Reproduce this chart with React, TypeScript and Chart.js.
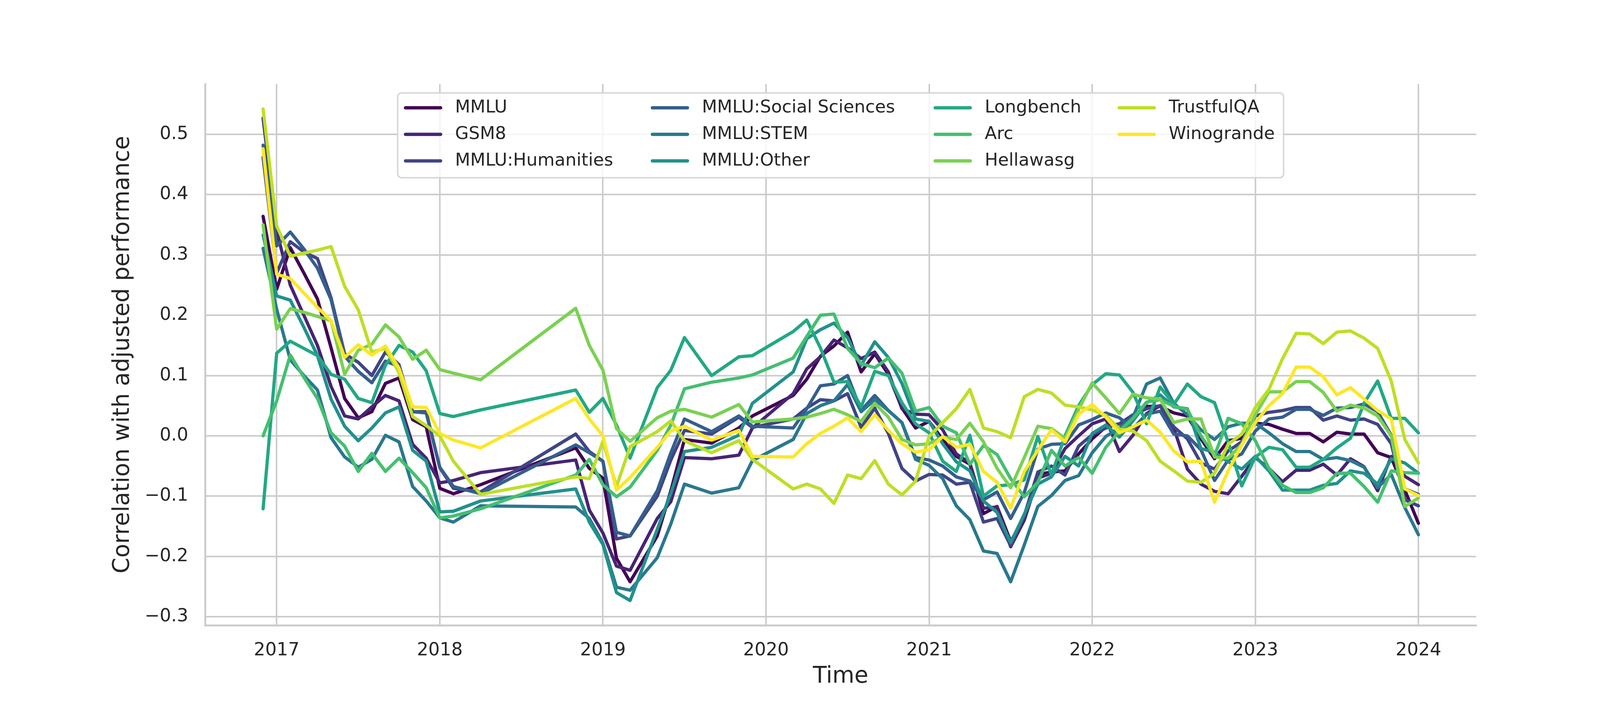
import { useEffect, useRef } from 'react';
import { Chart, registerables } from 'chart.js';

Chart.register(...registerables);

// Observation months (YYYY-MM)
const MONTHS = [
  '2016-12', '2017-01', '2017-02', '2017-03', '2017-04', '2017-05', '2017-06', '2017-07', '2017-08', '2017-09', '2017-10', '2017-11', '2017-12', '2018-01', '2018-02', '2018-04',
  '2018-11', '2018-12', '2019-01', '2019-02', '2019-03', '2019-05', '2019-06', '2019-07', '2019-09', '2019-11', '2019-12',
  '2020-03', '2020-04', '2020-05', '2020-06', '2020-07', '2020-08', '2020-09', '2020-10', '2020-11', '2020-12',
  '2021-01', '2021-02', '2021-03', '2021-04', '2021-05', '2021-06', '2021-07', '2021-08', '2021-09', '2021-10', '2021-11', '2021-12',
  '2022-01', '2022-02', '2022-03', '2022-04', '2022-05', '2022-06', '2022-07', '2022-08', '2022-09', '2022-10', '2022-11', '2022-12',
  '2023-01', '2023-02', '2023-03', '2023-04', '2023-05', '2023-06', '2023-07', '2023-08', '2023-09', '2023-10', '2023-11', '2023-12',
  '2024-01',
];

const MMLU = [
  0.364, 0.243, 0.312, 0.27, 0.227, 0.146, 0.062, 0.030, 0.040, 0.087, 0.096, 0.027, 0.015, -0.087, -0.096, -0.081,
  -0.020, -0.054, -0.070, -0.203, -0.242, -0.166, -0.091, -0.006, -0.012, 0.013, 0.033,
  0.067, 0.094, 0.132, 0.149, 0.172, 0.106, 0.136, 0.102, 0.046, 0.013,
  0.024, -0.006, -0.034, -0.047, -0.129, -0.117, -0.175, -0.136, -0.064, -0.060, -0.058, -0.030,
  -0.005, 0.015, 0.020, 0.030, 0.049, 0.049, 0.038, 0.033, -0.005, -0.038, -0.008, -0.004,
  0.021, 0.019, 0.011, 0.004, 0.004, -0.010, 0.006, 0.003, 0.003, -0.028, -0.036, -0.090,
  -0.145,
];

const GSM8 = [
  0.527, 0.34, 0.25, 0.20, 0.15, 0.082, 0.033, 0.028, 0.048, 0.067, 0.058, -0.014, -0.037, -0.078, -0.074, -0.061,
  -0.040, -0.123, -0.161, -0.216, -0.223, -0.137, -0.109, -0.036, -0.038, -0.032, 0.013,
  0.070, 0.111, 0.131, 0.159, 0.146, 0.128, 0.139, 0.106, 0.045, 0.036,
  0.035, 0.010, -0.030, -0.045, -0.120, -0.118, -0.184, -0.140, -0.070, -0.062, -0.021, 0.000,
  0.020, 0.028, -0.026, 0.001, 0.037, 0.050, 0.013, -0.055, -0.080, -0.092, -0.096, -0.067,
  -0.036, -0.054, -0.076, -0.057, -0.057, -0.047, -0.065, -0.038, -0.051, -0.091, -0.034, -0.067,
  -0.081,
];

const HUMANITIES = [
  0.462, 0.27, 0.322, 0.305, 0.294, 0.229, 0.136, 0.122, 0.100, 0.139, 0.118, 0.040, 0.040, -0.053, -0.087, -0.093,
  0.003, -0.026, -0.042, -0.171, -0.166, -0.100, -0.040, 0.009, 0.003, 0.031, 0.014,
  0.028, 0.046, 0.060, 0.058, 0.070, 0.014, 0.046, 0.004, -0.054, -0.075,
  -0.064, -0.065, -0.080, -0.077, -0.143, -0.137, -0.182, -0.132, -0.060, -0.050, -0.065, -0.017,
  0.002, 0.013, 0.020, 0.035, 0.045, 0.050, 0.015, -0.005, -0.045, -0.055, -0.025, -0.010,
  0.033, 0.039, 0.042, 0.047, 0.047, 0.026, 0.033, 0.026, 0.028, 0.019, -0.013, -0.106,
  -0.116,
];

const SOCIAL = [
  0.482, 0.315, 0.338, 0.310, 0.278, 0.226, 0.132, 0.107, 0.088, 0.124, 0.115, 0.040, 0.038, -0.052, -0.084, -0.096,
  -0.015, -0.028, -0.042, -0.160, -0.166, -0.091, -0.028, 0.028, 0.007, 0.033, 0.016,
  0.013, 0.045, 0.083, 0.086, 0.100, 0.042, 0.067, 0.042, 0.022, -0.036,
  -0.040, -0.050, -0.068, -0.075, -0.106, -0.093, -0.137, -0.094, -0.022, -0.014, -0.013, 0.018,
  0.027, 0.038, 0.030, 0.012, 0.036, 0.041, 0.003, 0.000, -0.023, -0.074, -0.040, -0.030,
  0.008, 0.028, 0.031, 0.044, 0.044, 0.034, 0.046, 0.047, 0.053, 0.040, 0.001, -0.088,
  -0.097,
];

const STEM = [
  0.311, 0.21, 0.126, 0.10, 0.076, -0.003, -0.035, -0.052, -0.039, 0.001, -0.010, -0.084, -0.108, -0.136, -0.143, -0.116,
  -0.118, -0.137, -0.178, -0.251, -0.256, -0.202, -0.146, -0.080, -0.095, -0.086, -0.041,
  -0.006, 0.037, 0.050, 0.058, 0.085, 0.040, 0.060, 0.042, 0.022, -0.039,
  -0.049, -0.071, -0.116, -0.139, -0.191, -0.195, -0.242, -0.181, -0.117, -0.099, -0.074, -0.066,
  -0.028, -0.001, 0.013, 0.031, 0.086, 0.096, 0.054, 0.035, 0.010, -0.006, 0.015, 0.021,
  0.021, 0.005, -0.013, -0.026, -0.026, -0.039, -0.036, -0.041, -0.052, -0.086, -0.064, -0.119,
  -0.164,
];

const OTHER = [
  0.333, 0.232, 0.225, 0.18, 0.133, 0.061, 0.016, -0.008, 0.013, 0.038, 0.048, -0.024, -0.042, -0.126, -0.125, -0.108,
  -0.088, -0.143, -0.180, -0.260, -0.273, -0.155, -0.095, -0.026, -0.019, 0.001, 0.054,
  0.106, 0.161, 0.176, 0.187, 0.163, 0.117, 0.156, 0.130, 0.087, 0.028,
  0.024, -0.013, -0.043, -0.058, -0.108, -0.127, -0.177, -0.130, -0.080, -0.068, -0.034, -0.050,
  0.004, 0.018, -0.002, 0.025, 0.055, 0.068, 0.048, 0.045, -0.021, -0.027, -0.043, -0.055,
  -0.034, -0.058, -0.090, -0.090, -0.090, -0.082, -0.079, -0.058, -0.062, -0.080, -0.038, -0.045,
  -0.062,
];

const LONGBENCH = [
  -0.121, 0.137, 0.157, 0.145, 0.133, 0.102, 0.094, 0.062, 0.055, 0.117, 0.150, 0.139, 0.108, 0.037, 0.032, 0.043,
  0.076, 0.039, 0.062, 0.018, -0.037, 0.080, 0.109, 0.163, 0.100, 0.131, 0.133,
  0.173, 0.192, 0.146, 0.089, 0.090, 0.048, 0.107, 0.100, 0.055, 0.020,
  0.005, -0.042, -0.059, 0.001, -0.100, -0.083, -0.081, -0.073, -0.001, -0.065, 0.000, 0.050,
  0.085, 0.103, 0.101, 0.072, 0.020, 0.081, 0.052, 0.086, 0.065, 0.055, -0.010, -0.083,
  -0.035, -0.019, -0.023, -0.052, -0.052, -0.039, -0.020, -0.004, 0.054, 0.091, 0.029, 0.029,
  0.005,
];

const ARC = [
  0.000, 0.058, 0.134, 0.097, 0.062, 0.005, -0.017, -0.059, -0.029, -0.059, -0.037, -0.061, -0.086, -0.136, -0.133, -0.121,
  -0.065, -0.039, -0.081, -0.101, -0.085, -0.024, 0.018, 0.078, 0.089, 0.096, 0.101,
  0.129, 0.165, 0.200, 0.202, 0.145, 0.120, 0.113, 0.129, 0.104, 0.041,
  0.047, 0.016, 0.005, -0.047, -0.016, -0.031, -0.071, -0.101, -0.077, -0.024, -0.050, -0.036,
  -0.062, -0.019, 0.008, 0.029, 0.056, 0.060, 0.049, 0.044, 0.000, -0.033, 0.029, 0.020,
  -0.008, -0.054, -0.082, -0.094, -0.094, -0.086, -0.062, -0.062, -0.084, -0.110, -0.058, -0.061,
  -0.062,
];

const HELLAWASG = [
  0.350, 0.177, 0.211, 0.205, 0.198, 0.191, 0.102, 0.142, 0.152, 0.184, 0.164, 0.127, 0.142, 0.110, 0.104, 0.093,
  0.2115, 0.150, 0.109, 0.012, -0.009, 0.030, 0.041, 0.044, 0.031, 0.052, 0.023,
  0.028, 0.031, 0.037, 0.044, 0.035, 0.024, 0.054, 0.031, -0.006, -0.015,
  -0.013, -0.002, -0.006, 0.021, -0.010, -0.054, -0.086, -0.036, 0.016, 0.012, -0.004, 0.044,
  0.088, 0.063, 0.037, 0.069, 0.063, 0.061, 0.022, 0.028, 0.028, -0.035, -0.037, -0.014,
  0.035, 0.073, 0.073, 0.090, 0.090, 0.072, 0.041, 0.051, 0.046, 0.033, 0.000, -0.117,
  -0.103,
];

const TRUSTFULQA = [
  0.542, 0.348, 0.298, 0.303, 0.308, 0.314, 0.248, 0.209, 0.139, 0.145, 0.105, 0.032, 0.017, 0.000, -0.042, -0.097,
  -0.068, -0.071, -0.009, -0.084, -0.018, 0.007, 0.025, -0.008, -0.028, -0.008, -0.039,
  -0.088, -0.080, -0.088, -0.112, -0.065, -0.071, -0.041, -0.080, -0.098, -0.075,
  -0.001, 0.022, 0.045, 0.077, 0.013, 0.007, -0.003, 0.065, 0.077, 0.071, 0.051, 0.048,
  0.043, 0.034, 0.011, 0.008, -0.008, -0.042, -0.058, -0.075, -0.077, -0.062, -0.014, 0.003,
  0.047, 0.077, 0.128, 0.170, 0.169, 0.153, 0.172, 0.174, 0.162, 0.145, 0.091, -0.006,
  -0.045,
];

const WINOGRANDE = [
  0.476, 0.268, 0.261, 0.237, 0.213, 0.191, 0.130, 0.151, 0.134, 0.149, 0.112, 0.048, 0.047, 0.004, -0.007, -0.020,
  0.062, 0.028, 0.000, -0.090, -0.069, -0.019, 0.008, 0.016, -0.007, 0.009, -0.034,
  -0.035, -0.013, 0.004, 0.016, 0.030, 0.007, 0.035, 0.009, -0.013, -0.027,
  -0.023, -0.001, -0.019, -0.014, -0.059, -0.077, -0.120, -0.059, -0.024, 0.010, -0.010, 0.036,
  0.052, 0.031, 0.005, 0.015, 0.026, 0.006, -0.025, -0.043, -0.042, -0.110, -0.058, -0.015,
  0.022, 0.050, 0.070, 0.114, 0.114, 0.098, 0.068, 0.080, 0.061, 0.042, 0.028, -0.088,
  -0.099,
];

const SERIES_NAMES = [
  'MMLU', 'GSM8', 'MMLU:Humanities', 'MMLU:Social Sciences', 'MMLU:STEM', 'MMLU:Other',
  'Longbench', 'Arc', 'Hellawasg', 'TrustfulQA', 'Winogrande',
];
const SERIES_VALUES = [MMLU, GSM8, HUMANITIES, SOCIAL, STEM, OTHER, LONGBENCH, ARC, HELLAWASG, TRUSTFULQA, WINOGRANDE];
const COLORS = ['#440154', '#482475', '#414487', '#355f8d', '#2a788e', '#21918c', '#22a884', '#44bf70', '#7ad151', '#bddf26', '#fde725'];

const Y_TICKS = [-0.3, -0.2, -0.1, 0.0, 0.1, 0.2, 0.3, 0.4, 0.5];
const X_TICKS = [2017, 2018, 2019, 2020, 2021, 2022, 2023, 2024];

const X_MIN = 2016.561;
const X_MAX = 2024.354;
const Y_MIN = -0.3141;
const Y_MAX = 0.5835;

const FONT = 'DejaVu Sans';
const TEXT = '#262626';
const GRID = '#cccccc';
const LINE_W = 8.3;

function monthToYear(m: string): number {
  const [y, mo] = m.split('-').map(Number);
  return y + (mo - 1) / 12;
}

function fmtY(v: number): string {
  const r = Math.round(v * 10) / 10;
  if (Math.abs(r) < 1e-9) return '0.0';
  return (r < 0 ? '\u2212' : '') + Math.abs(r).toFixed(1);
}

const legendPlugin = {
  id: 'boxLegend',
  afterDatasetsDraw(chart: any) {
    const ctx: CanvasRenderingContext2D = chart.ctx;
    const x0 = 1018, y0 = 238, x1 = 3286, y1 = 455, r = 10;
    ctx.save();
    ctx.beginPath();
    ctx.moveTo(x0 + r, y0);
    ctx.lineTo(x1 - r, y0);
    ctx.arcTo(x1, y0, x1, y0 + r, r);
    ctx.lineTo(x1, y1 - r);
    ctx.arcTo(x1, y1, x1 - r, y1, r);
    ctx.lineTo(x0 + r, y1);
    ctx.arcTo(x0, y1, x0, y1 - r, r);
    ctx.lineTo(x0, y0 + r);
    ctx.arcTo(x0, y0, x0 + r, y0, r);
    ctx.closePath();
    ctx.fillStyle = 'rgba(255,255,255,0.8)';
    ctx.fill();
    ctx.strokeStyle = '#d5d5d5';
    ctx.lineWidth = 3.5;
    ctx.stroke();

    const colX = [1034, 1666, 2390, 2861];
    const rowY = [276, 344, 412];
    ctx.font = `45px "${FONT}"`;
    ctx.textBaseline = 'middle';
    ctx.textAlign = 'left';
    SERIES_NAMES.forEach((name, i) => {
      const col = Math.floor(i / 3);
      const row = i % 3;
      const hx = colX[col];
      const hy = rowY[row];
      ctx.beginPath();
      ctx.moveTo(hx + 4, hy);
      ctx.lineTo(hx + 94, hy);
      ctx.strokeStyle = COLORS[i];
      ctx.lineWidth = LINE_W;
      ctx.lineCap = 'round';
      ctx.stroke();
      ctx.fillStyle = TEXT;
      ctx.fillText(name, hx + 131, hy);
    });
    ctx.restore();
  },
};

export default function App() {
  const canvasRef = useRef<HTMLCanvasElement | null>(null);

  useEffect(() => {
    const canvas = canvasRef.current;
    if (!canvas) return;
    const xs = MONTHS.map(monthToYear);
    const datasets = SERIES_NAMES.map((name, i) => ({
      label: name,
      data: xs.map((x, j) => ({ x, y: SERIES_VALUES[i][j] })),
      borderColor: COLORS[i],
      backgroundColor: COLORS[i],
      borderWidth: LINE_W,
      pointRadius: 0,
      tension: 0,
      fill: false,
      borderJoinStyle: 'round' as const,
      borderCapStyle: 'round' as const,
      order: SERIES_NAMES.length - i,
    }));

    const chart = new Chart(canvas, {
      type: 'line',
      data: { datasets },
      options: {
        animation: false,
        responsive: false,
        devicePixelRatio: 1,
        layout: { padding: { left: 0, right: 421, top: 215, bottom: 0 } },
        plugins: { legend: { display: false }, tooltip: { enabled: false }, title: { display: false } },
        scales: {
          x: {
            type: 'linear',
            min: X_MIN,
            max: X_MAX,
            afterBuildTicks: (s: any) => { s.ticks = X_TICKS.map((v) => ({ value: v })); },
            afterFit: (s: any) => { s.height = 199; },
            grid: { color: GRID, lineWidth: 4, drawTicks: false },
            border: { display: true, color: GRID, width: 5 },
            ticks: {
              padding: 37,
              autoSkip: false,
              maxRotation: 0,
              color: TEXT,
              font: { family: FONT, size: 46 },
              callback: (v: any) => String(v),
            },
            title: {
              display: true,
              text: 'Time',
              color: TEXT,
              font: { family: FONT, size: 58 },
              padding: { top: 0, bottom: 32 },
            },
          },
          y: {
            type: 'linear',
            min: Y_MIN,
            max: Y_MAX,
            afterBuildTicks: (s: any) => { s.ticks = Y_TICKS.map((v) => ({ value: v })); },
            afterFit: (s: any) => { s.width = 525; },
            grid: { color: GRID, lineWidth: 4, drawTicks: false },
            border: { display: true, color: GRID, width: 5 },
            ticks: {
              padding: 43,
              autoSkip: false,
              color: TEXT,
              font: { family: FONT, size: 46 },
              callback: (v: any) => fmtY(Number(v)),
            },
            title: {
              display: true,
              text: 'Correlation with adjusted performance',
              color: TEXT,
              font: { family: FONT, size: 58 },
              padding: { top: 280, bottom: 0 },
            },
          },
        },
      },
      plugins: [legendPlugin],
    });
    return () => chart.destroy();
  }, []);

  return (
    <div style={{ position: 'absolute', left: 0, top: 0, width: 4200, height: 1800, background: '#ffffff' }}>
      <canvas ref={canvasRef} width={4200} height={1800} style={{ width: 4200, height: 1800, display: 'block' }} />
    </div>
  );
}
